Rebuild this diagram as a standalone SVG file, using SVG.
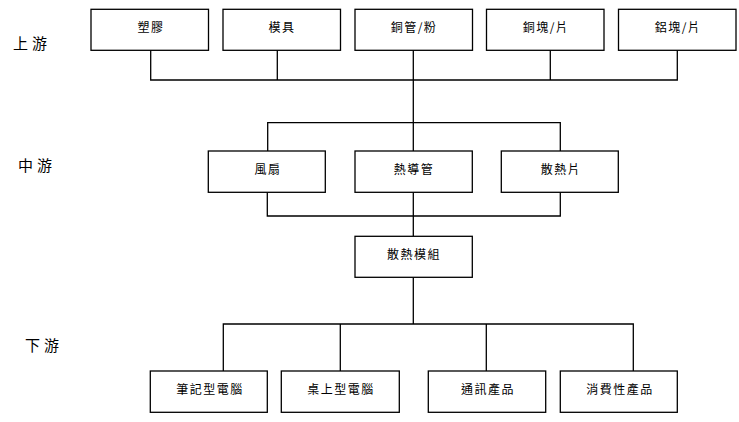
<svg xmlns="http://www.w3.org/2000/svg" width="739" height="422" viewBox="0 0 739 422">
<style>
.box rect{fill:#fff;stroke:#000;stroke-width:1.3}
.box text{font-family:"Noto Sans CJK TC","Noto Sans CJK SC",sans-serif;font-size:12px;letter-spacing:1.5px;text-anchor:middle;fill:#000}
.lbl{font-family:"Noto Sans CJK TC","Noto Sans CJK SC",sans-serif;font-size:15px;letter-spacing:4px;fill:#000}
#connectors path{fill:none;stroke:#000;stroke-width:1.3}
</style>
<rect width="739" height="422" fill="#fff"/>
<g id="connectors">
<path d="M150.7 50V80H677.3V50M277.3 50V80M413.3 50V151M550.3 50V80"/>
<path d="M267.7 151V122.7H560.3V151"/>
<path d="M267.3 192.3V216H560.3V192.3M413.3 192.3V236.3"/>
<path d="M413.3 277.3V324M223.3 371V324H633.3V371M340.3 324V371M486.3 324V371"/>
</g>
<text class="lbl" x="13" y="49">上游</text>
<text class="lbl" x="18" y="171">中游</text>
<text class="lbl" x="25" y="351">下游</text>
<g id="n1" class="box"><rect x="91" y="9.3" width="117.5" height="41"/><text x="151" y="32">塑膠</text></g>
<g id="n2" class="box"><rect x="223" y="9.3" width="117.5" height="41"/><text x="282" y="32">模具</text></g>
<g id="n3" class="box"><rect x="355" y="9.3" width="117.5" height="41"/><text x="414" y="32">銅管/粉</text></g>
<g id="n4" class="box"><rect x="486.5" y="9.3" width="117.5" height="41"/><text x="546" y="32">銅塊/片</text></g>
<g id="n5" class="box"><rect x="618.5" y="9.3" width="117.5" height="41"/><text x="678" y="32">鋁塊/片</text></g>
<g id="n6" class="box"><rect x="208.3" y="151" width="117" height="41.3"/><text x="268" y="174">風扇</text></g>
<g id="n7" class="box"><rect x="355" y="151" width="117.3" height="41.3"/><text x="414" y="174">熱導管</text></g>
<g id="n8" class="box"><rect x="501.3" y="151" width="117" height="41.3"/><text x="561" y="174">散熱片</text></g>
<g id="n9" class="box"><rect x="355" y="236.3" width="117.3" height="41"/><text x="414" y="259">散熱模組</text></g>
<g id="n10" class="box"><rect x="150.3" y="371" width="117" height="41.3"/><text x="210" y="394">筆記型電腦</text></g>
<g id="n11" class="box"><rect x="281.3" y="371" width="118" height="41.3"/><text x="341" y="394">桌上型電腦</text></g>
<g id="n12" class="box"><rect x="428.3" y="371" width="117.4" height="41.3"/><text x="488" y="394">通訊產品</text></g>
<g id="n13" class="box"><rect x="560.3" y="371" width="117" height="41.3"/><text x="620" y="394">消費性產品</text></g>
</svg>
